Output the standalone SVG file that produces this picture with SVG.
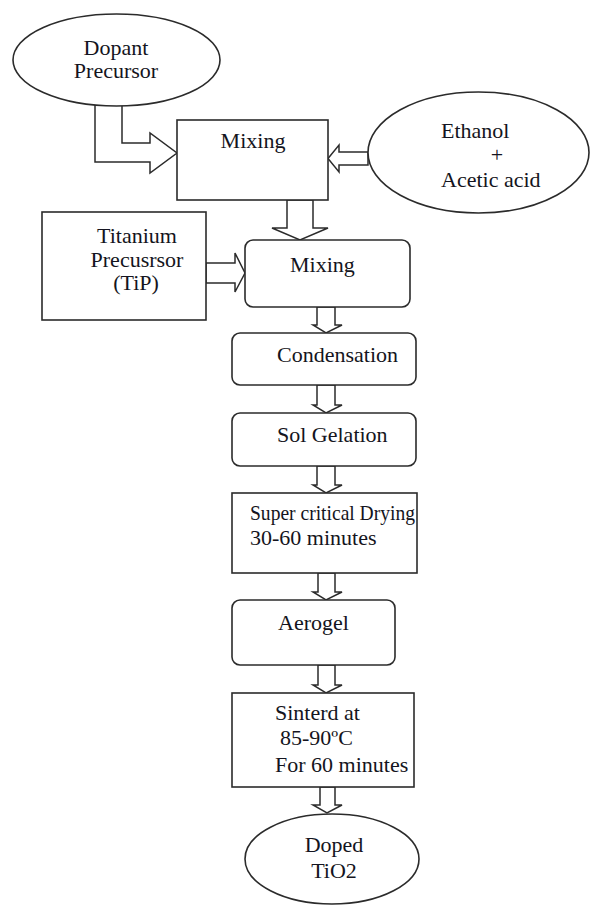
<svg xmlns="http://www.w3.org/2000/svg" width="590" height="905" viewBox="0 0 590 905">
<style>
.s{fill:#fff;stroke:#2b2b2b;stroke-width:1.6}
.a{fill:#fff;stroke:#2b2b2b;stroke-width:1.5;stroke-linejoin:miter}
text{font-family:"Liberation Serif","Times New Roman",serif;font-size:22px;fill:#141420}
.c{text-anchor:middle}
</style>
<rect width="590" height="905" fill="#fff"/>
<g id="connectors">
<polygon class="a" points="95,104 95,162 150,162 150,173 177,153 150,133 150,143 122,143 122,104"/>
<polygon class="a" points="368,152 339,152 339,145 328,158.5 339,172 339,165 368,165"/>
<polygon class="a" points="287,200 287,228 272,228 300,240 328,228 313,228 313,200"/>
<polygon class="a" points="206,263 235,263 235,253 245,273 235,292 235,283 206,283"/>
<polygon class="a" points="317,307 317,325 313,325 326,333 342,325 335,325 335,307"/>
<polygon class="a" points="317,385 317,405 313,405 326,413 342,405 335,405 335,385"/>
<polygon class="a" points="317,466 317,485 313,485 326,493 342,485 335,485 335,466"/>
<polygon class="a" points="318,573 318,592 313,592 326,600 342,592 335,592 335,573"/>
<polygon class="a" points="318,665 318,685 313,685 326,693 342,685 335,685 335,665"/>
<polygon class="a" points="320,787 320,805 313,805 327,813 342,805 335,805 335,787"/>
</g>
<g id="dopant">
<ellipse class="s" cx="116.5" cy="60" rx="103.5" ry="46"/>
<text x="116" y="55" class="c">Dopant</text>
<text x="116" y="78" class="c">Precursor</text>
</g>
<g id="mixing1">
<rect class="s" x="177" y="120" width="151" height="80"/>
<text x="253" y="148" class="c">Mixing</text>
</g>
<g id="ethanol">
<ellipse class="s" cx="478.5" cy="152.5" rx="110.5" ry="60.5"/>
<text x="441" y="138">Ethanol</text>
<text x="497" y="162" class="c">+</text>
<text x="441" y="187">Acetic acid</text>
</g>
<g id="titanium">
<rect class="s" x="42" y="212" width="164" height="108"/>
<text x="137" y="243" class="c">Titanium</text>
<text x="137" y="267" class="c">Precusrsor</text>
<text x="136" y="290" class="c">(TiP)</text>
</g>
<g id="mixing2">
<rect class="s" x="245" y="240" width="165" height="67" rx="8"/>
<text x="290" y="272">Mixing</text>
</g>
<g id="condensation">
<rect class="s" x="232" y="333" width="184" height="52" rx="8"/>
<text x="277" y="362">Condensation</text>
</g>
<g id="solgelation">
<rect class="s" x="232" y="413" width="184" height="53" rx="8"/>
<text x="277" y="442">Sol Gelation</text>
</g>
<g id="drying">
<rect class="s" x="232" y="493" width="185" height="80"/>
<text x="250" y="520" textLength="165" lengthAdjust="spacingAndGlyphs">Super critical Drying</text>
<text x="250" y="545">30-60 minutes</text>
</g>
<g id="aerogel">
<rect class="s" x="232" y="600" width="163" height="65" rx="8"/>
<text x="278" y="630">Aerogel</text>
</g>
<g id="sinterd">
<rect class="s" x="232" y="693" width="182" height="94"/>
<text x="275" y="720">Sinterd at</text>
<text x="280" y="745">85-90ºC</text>
<text x="275" y="772">For 60 minutes</text>
</g>
<g id="doped">
<ellipse class="s" cx="332" cy="859" rx="87" ry="45"/>
<text x="334" y="852" class="c">Doped</text>
<text x="334" y="878" class="c">TiO2</text>
</g>
</svg>
